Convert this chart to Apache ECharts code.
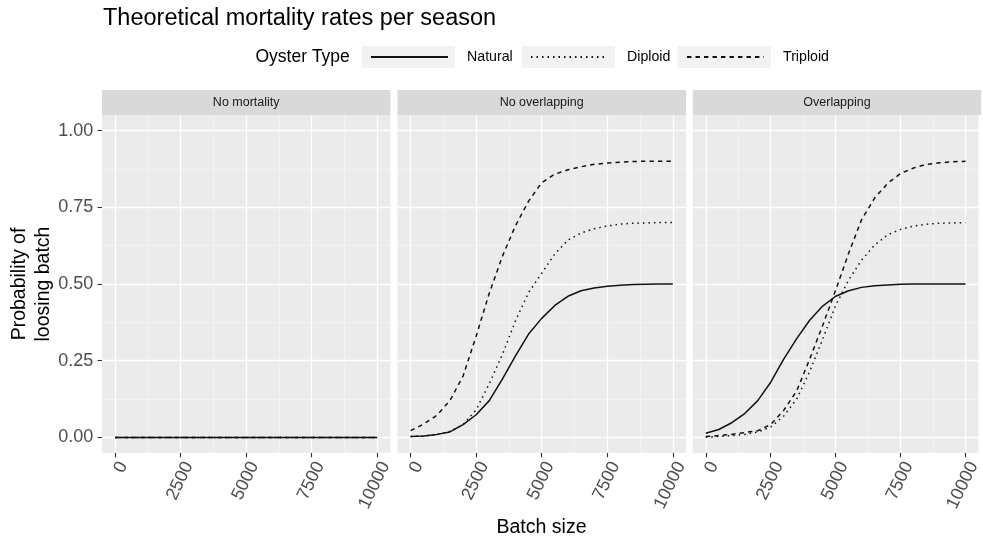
<!DOCTYPE html>
<html>
<head>
<meta charset="utf-8">
<script src="https://cdn.jsdelivr.net/npm/echarts@6/dist/echarts.min.js"></script>
<style>
html,body{margin:0;padding:0;background:#fff;}
#chart{width:983px;height:542px;}
</style>
</head>
<body>
<div id="chart"></div>
<script>
// ---------- data ----------
const batchSize = [0,500,1000,1500,2000,2500,3000,3500,4000,4500,5000,5500,6000,6500,7000,7500,8000,8500,9000,9500,10000];
const panelNames = ['No mortality','No overlapping','Overlapping'];
const oysterTypes = ['Natural','Diploid','Triploid'];

const noMortalityNatural  = [0,0,0,0,0,0,0,0,0,0,0,0,0,0,0,0,0,0,0,0,0];
const noMortalityDiploid  = [0,0,0,0,0,0,0,0,0,0,0,0,0,0,0,0,0,0,0,0,0];
const noMortalityTriploid = [0,0,0,0,0,0,0,0,0,0,0,0,0,0,0,0,0,0,0,0,0];

const noOverlapNatural  = [0.003,0.005,0.01,0.018,0.042,0.074,0.12,0.19,0.266,0.337,0.388,0.43,0.46,0.478,0.487,0.493,0.496,0.498,0.499,0.5,0.5];
const noOverlapDiploid  = [0.003,0.005,0.009,0.02,0.042,0.09,0.175,0.27,0.38,0.472,0.535,0.598,0.643,0.666,0.68,0.689,0.695,0.698,0.699,0.7,0.7];
const noOverlapTriploid = [0.022,0.044,0.072,0.12,0.2,0.33,0.47,0.59,0.69,0.77,0.83,0.858,0.872,0.882,0.89,0.894,0.897,0.899,0.9,0.9,0.9];

const overlapNatural  = [0.014,0.026,0.048,0.078,0.12,0.18,0.255,0.322,0.382,0.428,0.46,0.478,0.489,0.494,0.497,0.499,0.5,0.5,0.5,0.5,0.5];
const overlapDiploid  = [0.001,0.003,0.006,0.01,0.018,0.034,0.07,0.125,0.215,0.32,0.43,0.513,0.578,0.627,0.66,0.678,0.689,0.695,0.698,0.699,0.7];
const overlapTriploid = [0.003,0.006,0.01,0.016,0.022,0.042,0.088,0.152,0.255,0.365,0.48,0.6,0.71,0.78,0.828,0.86,0.878,0.89,0.895,0.898,0.9];

const panelData = [
  [noMortalityNatural, noMortalityDiploid, noMortalityTriploid],
  [noOverlapNatural, noOverlapDiploid, noOverlapTriploid],
  [overlapNatural, overlapDiploid, overlapTriploid]
];

const xTicks = [0,2500,5000,7500,10000];
const xMinor = [1250,3750,6250,8750];
const yTicks = [0,0.25,0.5,0.75,1];
const yMinor = [0.125,0.375,0.625,0.875];

// ---------- layout / style ----------
const FONT = 'Liberation Sans';
const panelLeft = [102, 397.5, 692.8];
const panelW = 288.4;
const panelTop = 115.2;
const panelH = 337.6;
const stripTop = 90;
const stripH = 25.2;
const lineTypes = ['solid', [1.5, 4.0], [4.4, 4.1]];

const grids = [], xAxes = [], yAxes = [], series = [], graphics = [];

panelLeft.forEach((left, i) => {
  grids.push({left: left, top: panelTop, width: panelW, height: panelH,
    show: true, backgroundColor: '#EBEBEB', borderWidth: 0});
  // major x
  xAxes.push({type: 'value', gridIndex: i, min: -500, max: 10500, position: 'bottom',
    axisLine: {show: false, onZero: false},
    axisTick: {show: true, customValues: xTicks, length: 4.5, lineStyle: {color: '#333333', width: 1.1}},
    axisLabel: {show: true, customValues: xTicks, rotate: 64, fontSize: 18, color: '#4D4D4D',
      fontFamily: FONT, margin: 6, verticalAlign: 'top', formatter: v => String(v)},
    splitLine: {show: true, lineStyle: {color: '#FFFFFF', width: 1.3}}});
  // minor x
  xAxes.push({type: 'value', gridIndex: i, min: -500, max: 10500, position: 'top',
    axisLine: {show: false, onZero: false},
    axisTick: {show: false, customValues: xMinor},
    axisLabel: {show: false, customValues: xMinor},
    splitLine: {show: true, lineStyle: {color: '#F5F5F5', width: 0.7}}});
  // major y
  yAxes.push({type: 'value', gridIndex: i, min: -0.05, max: 1.05, position: 'left',
    axisLine: {show: false, onZero: false},
    axisTick: {show: i === 0, customValues: yTicks, length: 4.5, lineStyle: {color: '#333333', width: 1.1}},
    axisLabel: {show: i === 0, customValues: yTicks, fontSize: 18, color: '#4D4D4D', fontFamily: FONT,
      margin: 8.7, formatter: v => v.toFixed(2)},
    splitLine: {show: true, lineStyle: {color: '#FFFFFF', width: 1.3}}});
  // minor y
  yAxes.push({type: 'value', gridIndex: i, min: -0.05, max: 1.05, position: 'right',
    axisLine: {show: false, onZero: false},
    axisTick: {show: false, customValues: yMinor},
    axisLabel: {show: false, customValues: yMinor},
    splitLine: {show: true, lineStyle: {color: '#F5F5F5', width: 0.7}}});

  oysterTypes.forEach((name, k) => {
    series.push({
      type: 'line', name: name,
      xAxisIndex: 2 * i, yAxisIndex: 2 * i,
      data: batchSize.map((x, j) => [x, panelData[i][k][j]]),
      symbol: 'none', showSymbol: false, smooth: false,
      lineStyle: {color: '#111111', width: 1.5, type: lineTypes[k]},
      itemStyle: {color: '#111111'},
      z: 3 + k, animation: false
    });
  });

  // strip
  graphics.push({type: 'rect', shape: {x: left, y: stripTop, width: panelW, height: stripH},
    style: {fill: '#D9D9D9'}, silent: true});
  graphics.push({type: 'text', x: left + panelW / 2, y: stripTop + stripH / 2,
    style: {text: panelNames[i], fontSize: 12.5, fontFamily: FONT, fill: '#1A1A1A',
      align: 'center', verticalAlign: 'middle'}});
});

// title
graphics.push({type: 'text', x: 103, y: 19,
  style: {text: 'Theoretical mortality rates per season', fontSize: 23.5, fontFamily: FONT,
    fill: '#000000', align: 'left', verticalAlign: 'middle'}});
// axis titles
graphics.push({type: 'text', x: 541.5, y: 528,
  style: {text: 'Batch size', fontSize: 19.5, fontFamily: FONT, fill: '#000000',
    align: 'center', verticalAlign: 'middle'}});
graphics.push({type: 'text', x: 31.8, y: 284, rotation: Math.PI / 2,
  style: {text: 'Probability of\nloosing batch', fontSize: 19.5, lineHeight: 23.5, fontFamily: FONT,
    fill: '#000000', align: 'center', verticalAlign: 'middle'}});
// legend title & key backgrounds
graphics.push({type: 'text', x: 255.5, y: 57,
  style: {text: 'Oyster Type', fontSize: 17.5, fontFamily: FONT, fill: '#000000',
    align: 'left', verticalAlign: 'middle'}});
const keyLeft = [361.7, 521.7, 677.7];
keyLeft.forEach(x => {
  graphics.push({type: 'rect', shape: {x: x, y: 46, width: 93.3, height: 22},
    style: {fill: '#F2F2F2'}, silent: true, z: 0});
});

const legends = oysterTypes.map((name, k) => ({
  data: [name], left: keyLeft[k] + 8.3, top: 50, padding: 0,
  itemWidth: 77, itemHeight: 14, selectedMode: false,
  itemStyle: {opacity: 0},
  textStyle: {fontSize: 14.2, fontFamily: FONT, color: '#000000', padding: [0, 0, 0, 14]}
}));

const chart = echarts.init(document.getElementById('chart'), null, {renderer: 'canvas'});
chart.setOption({
  animation: false,
  textStyle: {fontFamily: FONT},
  grid: grids,
  xAxis: xAxes,
  yAxis: yAxes,
  legend: legends,
  series: series,
  graphic: graphics
});
</script>
</body>
</html>
